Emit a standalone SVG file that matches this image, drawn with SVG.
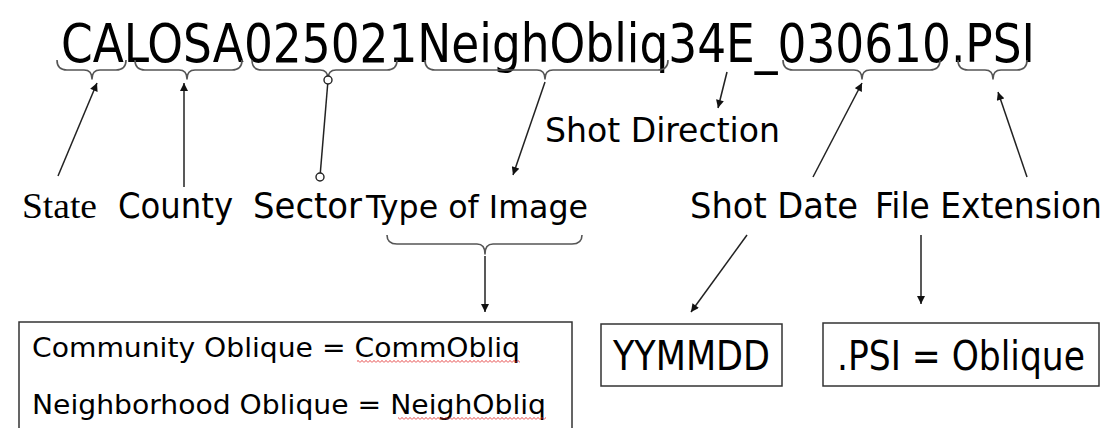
<svg xmlns="http://www.w3.org/2000/svg" width="1110" height="428" viewBox="0 0 1110 428">
<style>
.t{font-family:"DejaVu Sans","Liberation Sans",sans-serif;font-stretch:condensed;fill:#000}
.s{font-family:"Liberation Serif","DejaVu Serif",serif;fill:#000}
.br{fill:none;stroke:#555;stroke-width:1.6;stroke-linejoin:round}
.ln{fill:none;stroke:#222;stroke-width:1.5}
.box{fill:#fff;stroke:#333;stroke-width:1.5}
.dot{fill:#fff;stroke:#222;stroke-width:1.4}
</style>
<defs>
<marker id="ah" viewBox="0 0 10 10" refX="10" refY="5" markerWidth="10" markerHeight="8" markerUnits="userSpaceOnUse" orient="auto">
<path d="M0,0 L10,5 L0,10 Z" fill="#111"/>
</marker>
<pattern id="sq" width="4" height="3" patternUnits="userSpaceOnUse">
<path d="M0,2.6 L2,0.4 L4,2.6" fill="none" stroke="#e02020" stroke-width="0.8"/>
</pattern>
</defs>
<rect width="1110" height="428" fill="#fff"/>

<g id="title">
<text class="t" x="61" y="62" font-size="53" textLength="974" lengthAdjust="spacingAndGlyphs">CALOSA025021NeighObliq34E_030610.PSI</text>
</g>

<g id="braces">
<path class="br" d="M57,60 q0,10 10,10 H84 q8,0 8,9 q0,-9 8,-9 H116 q10,0 10,-10"/>
<path class="br" d="M135,60 q0,10 10,10 H179 q8,0 8,9 q0,-9 8,-9 H232 q10,0 10,-10"/>
<path class="br" d="M252,60 q0,10 10,10 H320 q8,0 8,9 q0,-9 8,-9 H387 q10,0 10,-10"/>
<path class="br" d="M425,60 q0,10 10,10 H537 q8,0 8,9 q0,-9 8,-9 H658 q10,0 10,-10"/>
<path class="br" d="M783,60 q0,10 10,10 H854 q8,0 8,9 q0,-9 8,-9 H930 q10,0 10,-10"/>
<path class="br" d="M958,60 q0,10 10,10 H985 q8,0 8,9 q0,-9 8,-9 H1017 q10,0 10,-10"/>
<path class="br" d="M387,235 q0,9 10,9 H477 q8,0 8,10 q0,-10 8,-10 H572 q10,0 10,-9"/>
</g>

<g id="connectors">
<line class="ln" x1="58" y1="176" x2="97" y2="83" marker-end="url(#ah)"/>
<line class="ln" x1="184" y1="187" x2="184" y2="83" marker-end="url(#ah)"/>
<line class="ln" x1="320.3" y1="173" x2="327.7" y2="84"/>
<circle class="dot" cx="328" cy="80" r="4"/>
<circle class="dot" cx="320" cy="177" r="4"/>
<line class="ln" x1="545" y1="82" x2="513" y2="175" marker-end="url(#ah)"/>
<line class="ln" x1="727" y1="72" x2="718" y2="108" marker-end="url(#ah)"/>
<line class="ln" x1="813" y1="177" x2="862" y2="83" marker-end="url(#ah)"/>
<line class="ln" x1="1027" y1="177" x2="998" y2="92" marker-end="url(#ah)"/>
<line class="ln" x1="485" y1="256" x2="485" y2="312" marker-end="url(#ah)"/>
<line class="ln" x1="747" y1="235" x2="691" y2="312" marker-end="url(#ah)"/>
<line class="ln" x1="921" y1="235" x2="921" y2="304" marker-end="url(#ah)"/>
</g>

<g id="state"><text class="s" x="22" y="218" font-size="36" textLength="75" lengthAdjust="spacingAndGlyphs">State</text></g>
<g id="county"><text class="t" x="118" y="218" font-size="36" textLength="115" lengthAdjust="spacingAndGlyphs">County</text></g>
<g id="sector"><text class="t" x="253" y="218" font-size="36" textLength="109" lengthAdjust="spacingAndGlyphs">Sector</text></g>
<g id="type-of-image"><text class="t" x="366" y="218" font-size="32" textLength="222" lengthAdjust="spacingAndGlyphs">Type of Image</text></g>
<g id="shot-direction"><text class="t" x="545" y="142" font-size="34" textLength="235" lengthAdjust="spacingAndGlyphs">Shot Direction</text></g>
<g id="shot-date"><text class="t" x="690" y="218" font-size="35" textLength="168" lengthAdjust="spacingAndGlyphs">Shot Date</text></g>
<g id="file-extension"><text class="t" x="875" y="218" font-size="35" textLength="227" lengthAdjust="spacingAndGlyphs">File Extension</text></g>

<g id="image-types">
<rect class="box" x="19" y="322" width="553" height="130"/>
<text class="t" x="32" y="357" font-size="26" textLength="488" lengthAdjust="spacingAndGlyphs">Community Oblique = CommObliq</text>
<text class="t" x="32" y="414" font-size="26" textLength="514" lengthAdjust="spacingAndGlyphs">Neighborhood Oblique = NeighObliq</text>
<rect x="357" y="360" width="163" height="3" fill="url(#sq)"/>
<rect x="398" y="417" width="148" height="3" fill="url(#sq)"/>
</g>

<g id="yymmdd">
<rect class="box" x="601" y="324" width="181" height="62"/>
<text class="t" x="613" y="370" font-size="40" textLength="157" lengthAdjust="spacingAndGlyphs">YYMMDD</text>
</g>

<g id="psi-oblique">
<rect class="box" x="823" y="323" width="276" height="63"/>
<text class="t" x="837" y="370" font-size="40" textLength="248" lengthAdjust="spacingAndGlyphs">.PSI = Oblique</text>
</g>
</svg>
